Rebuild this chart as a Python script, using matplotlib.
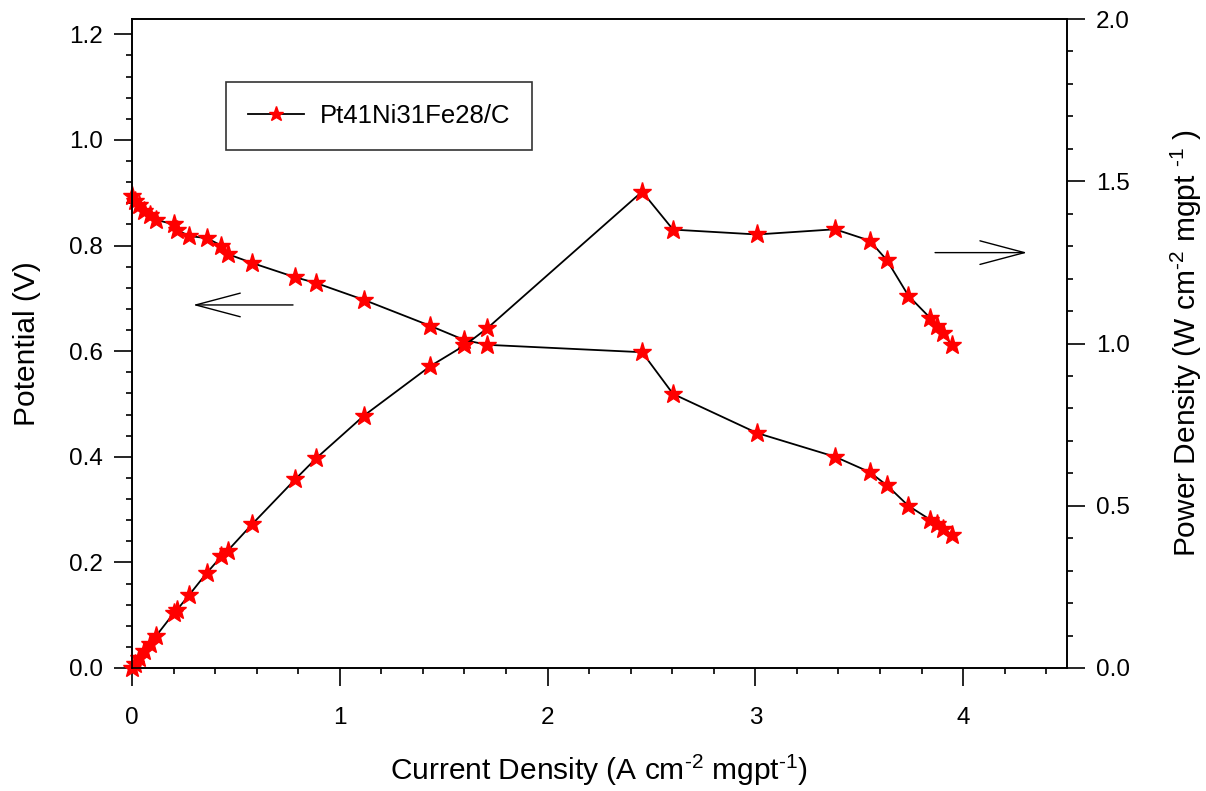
import matplotlib

matplotlib.use("Agg")
import matplotlib.pyplot as plt
from matplotlib.ticker import MultipleLocator

plt.rcParams["font.family"] = ["Liberation Sans", "DejaVu Sans"]
plt.rcParams["mathtext.fontset"] = "custom"
plt.rcParams["mathtext.rm"] = "Liberation Sans"
plt.rcParams["mathtext.default"] = "regular"

# polarization data, Pt41Ni31Fe28/C
current = [0.000, 0.015, 0.035, 0.060, 0.085, 0.115, 0.200, 0.215, 0.275, 0.360,
           0.430, 0.460, 0.578, 0.785, 0.886, 1.117, 1.435, 1.600, 1.710, 2.455,
           2.604, 3.008, 3.384, 3.550, 3.633, 3.737, 3.841, 3.873, 3.905, 3.945]
potential = [0.894, 0.884, 0.876, 0.866, 0.858, 0.849, 0.840, 0.830, 0.818, 0.814,
             0.800, 0.784, 0.767, 0.740, 0.729, 0.697, 0.648, 0.621, 0.612, 0.598,
             0.519, 0.445, 0.400, 0.371, 0.346, 0.307, 0.281, 0.272, 0.264, 0.252]
power = [0.000, 0.013, 0.031, 0.052, 0.073, 0.098, 0.168, 0.178, 0.225, 0.293,
         0.344, 0.361, 0.443, 0.581, 0.646, 0.778, 0.930, 0.994, 1.047, 1.468,
         1.351, 1.336, 1.352, 1.317, 1.257, 1.147, 1.079, 1.053, 1.031, 0.995]
label = "Pt41Ni31Fe28/C"

W, H = 1206, 791
fig = plt.figure(figsize=(W / 100, H / 100), dpi=100)
ax = fig.add_axes([132 / W, 1 - 668 / H, (1067 - 132) / W, (668 - 19) / H])
ax2 = ax.twinx()

style = dict(color="black", lw=1.3, marker="*", ms=14, mfc="red", mec="red", clip_on=False)
line, = ax.plot(current, potential, **style)
ax2.plot(current, power, **style)

ax.set_xlim(0, 4.5)
ax.set_ylim(0, 1.229)
ax2.set_ylim(0, 2.0)

ax.xaxis.set_major_locator(MultipleLocator(1))
ax.xaxis.set_minor_locator(MultipleLocator(0.2))
ax.yaxis.set_minor_locator(MultipleLocator(0.04))
ax2.yaxis.set_major_locator(MultipleLocator(0.5))
ax2.yaxis.set_minor_locator(MultipleLocator(0.1))
ax.set_yticks([0, 0.2, 0.4, 0.6, 0.8, 1.0, 1.2])
ax.yaxis.set_major_formatter(plt.FormatStrFormatter("%.1f"))
ax2.yaxis.set_major_formatter(plt.FormatStrFormatter("%.1f"))

for a in (ax, ax2):
    a.tick_params(which="major", direction="out", length=13, width=1.2, labelsize=17.5, pad=8)
    a.tick_params(which="minor", direction="out", length=4.5, width=1.2)
    for sp in a.spines.values():
        sp.set_linewidth(1.2)
ax.tick_params(axis="x", which="major", pad=15)
ax.tick_params(top=False, which="both")

ax.set_xlabel(r"Current Density (A cm$^{\text{-2}}$ mgpt$^{\text{-1}}$)", fontsize=21.5, labelpad=17)
ax.set_ylabel("Potential (V)", fontsize=21.5, labelpad=20)
ax2.set_ylabel(r"Power Density (W cm$^{\text{-2}}$ mgpt $^{\text{-1}}$ )", fontsize=21.5, labelpad=28)

# arrows pointing to each curve's axis
arrow = dict(arrowstyle="->, head_length=32, head_width=8.5", color="black", lw=1.0,
             mutation_scale=1, shrinkA=0, shrinkB=0)
ax.annotate("", xy=(0.294, 0.6875), xytext=(0.775, 0.6875), arrowprops=arrow)
ax.annotate("", xy=(4.308, 0.7866), xytext=(3.865, 0.7866), arrowprops=arrow)

leg = ax.legend([line], [label], loc="upper left",
                bbox_to_anchor=((226 - 132) / 935, 1 - (82 - 19) / 649),
                fontsize=18.5, frameon=True, fancybox=False, borderpad=0.85, handlelength=2.2,
                handletextpad=0.6, borderaxespad=0, markerscale=0.8)
leg.get_frame().set_edgecolor("black")
leg.get_frame().set_linewidth(1.2)

fig.savefig("out.png", dpi=100)
